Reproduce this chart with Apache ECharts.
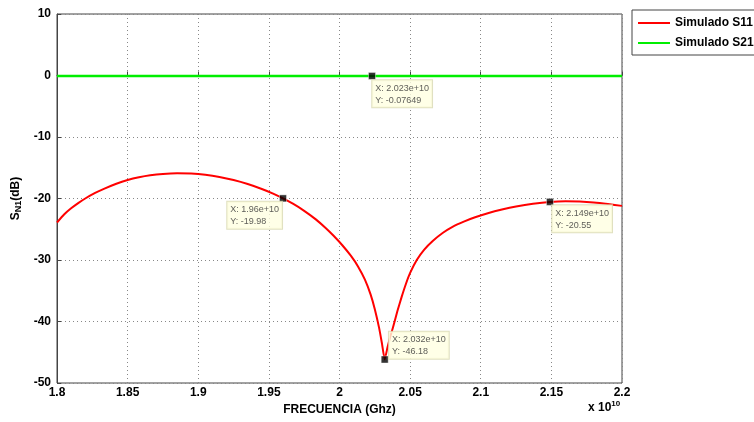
<!DOCTYPE html>
<html>
<head>
<meta charset="utf-8">
<script src="https://cdn.jsdelivr.net/npm/echarts@6/dist/echarts.min.js"></script>
<style>
html,body{margin:0;padding:0;background:#fff;}
#chart{width:754px;height:422px;}
</style>
</head>
<body>
<div id="chart"></div>
<script>
// frecuencia en unidades de 1e10 Hz
var freqS11 = [1.800, 1.805, 1.810, 1.815, 1.820, 1.827, 1.834, 1.842, 1.850, 1.858, 1.866, 1.875, 1.885, 1.895, 1.905, 1.915, 1.925, 1.935, 1.945, 1.953, 1.960, 1.967, 1.975, 1.983, 1.990, 1.996, 2.002, 2.008, 2.013, 2.018, 2.022, 2.025, 2.028, 2.030, 2.032, 2.034, 2.036, 2.0377, 2.041, 2.044, 2.047, 2.050, 2.0547, 2.060, 2.066, 2.073, 2.080, 2.088, 2.096, 2.105, 2.115, 2.125, 2.137, 2.149, 2.160, 2.170, 2.180, 2.190, 2.200];
var valS11 = [-23.9, -22.6, -21.6, -20.75, -20.0, -19.1, -18.35, -17.6, -17.0, -16.55, -16.22, -16.0, -15.9, -15.95, -16.15, -16.5, -17.0, -17.65, -18.45, -19.2, -19.98, -20.85, -22.0, -23.35, -24.75, -26.1, -27.6, -29.3, -31.0, -33.2, -35.6, -38.0, -41.0, -43.5, -46.18, -44.2, -42.4, -41.1, -38.3, -36.0, -33.9, -32.1, -30.0, -28.3, -26.9, -25.6, -24.6, -23.75, -23.05, -22.4, -21.8, -21.3, -20.85, -20.55, -20.45, -20.5, -20.65, -20.9, -21.2];
var freqS21 = [1.80, 1.90, 2.00, 2.023, 2.10, 2.20];
var valS21 = [-0.07, -0.072, -0.075, -0.07649, -0.078, -0.08];

var tipX = [2.023, 1.96, 2.032, 2.149];
var tipY = [-0.07649, -19.98, -46.18, -20.55];

var xTicks = ['1.8', '1.85', '1.9', '1.95', '2', '2.05', '2.1', '2.15', '2.2'];

var myChart = echarts.init(document.getElementById('chart'));

var s11 = freqS11.map(function (f, i) { return [f, valS11[i]]; });
var s21 = freqS21.map(function (f, i) { return [f, valS21[i]]; });

// desplazamiento de cada cuadro de dato respecto al marcador
var tipPos = [[4, 8], [-52, 7], [8, -24], [6, 7]];
var tips = tipX.map(function (x, i) {
    return {
        value: [x, tipY[i]],
        label: { position: tipPos[i] }
    };
});

var fontFam = 'Liberation Sans, Arial, sans-serif';

var option = {
    animation: false,
    backgroundColor: '#fff',
    grid: {
        left: 57, right: 132, top: 14, bottom: 39,
        show: true, borderColor: '#444', borderWidth: 1
    },
    legend: {
        left: 632, top: 10,
        orient: 'vertical',
        backgroundColor: '#fff',
        borderColor: '#444', borderWidth: 1,
        padding: [7, 4, 6, 6],
        itemGap: 8,
        icon: 'rect',
        itemWidth: 32, itemHeight: 2,
        textStyle: { fontFamily: fontFam, fontWeight: 'bold', fontSize: 12, color: '#000' },
        data: ['Simulado S11', 'Simulado S21']
    },
    xAxis: {
        type: 'value',
        min: 1.8, max: 2.2, interval: 0.05,
        name: 'FRECUENCIA (Ghz)',
        nameLocation: 'middle', nameGap: 21,
        nameTextStyle: { fontFamily: fontFam, fontWeight: 'bold', fontSize: 12, color: '#000' },
        axisLine: { show: true, lineStyle: { color: '#444' } },
        axisTick: { show: true, inside: true, length: 4, lineStyle: { color: '#444' } },
        axisLabel: {
            margin: 4,
            fontFamily: fontFam, fontWeight: 'bold', fontSize: 12, color: '#000',
            formatter: function (v) {
                var k = Math.round((v - 1.8) / 0.05);
                return xTicks[k] !== undefined ? xTicks[k] : '';
            }
        },
        splitLine: { show: true, lineStyle: { color: '#888', type: [1, 3], width: 1 } }
    },
    yAxis: {
        type: 'value',
        min: -50, max: 10, interval: 10,
        name: '{a|S}{s|N1}{a|(dB)}',
        nameLocation: 'middle', nameGap: 32, nameRotate: 90,
        nameTextStyle: {
            rich: {
                a: { fontFamily: fontFam, fontWeight: 'bold', fontSize: 12, color: '#000' },
                s: { fontFamily: fontFam, fontWeight: 'bold', fontSize: 9, color: '#000', verticalAlign: 'bottom', padding: [6, 0, 0, 0] }
            }
        },
        axisLine: { show: true, lineStyle: { color: '#444' } },
        axisTick: { show: true, inside: true, length: 4, lineStyle: { color: '#444' } },
        axisLabel: { margin: 6, fontFamily: fontFam, fontWeight: 'bold', fontSize: 12, color: '#000' },
        splitLine: { show: true, lineStyle: { color: '#888', type: [1, 3], width: 1 } }
    },
    graphic: [{
        type: 'text',
        left: 588, top: 400,
        style: {
            text: '{a|x 10}{s|10}',
            rich: {
                a: { fontFamily: fontFam, fontWeight: 'bold', fontSize: 12, fill: '#000' },
                s: { fontFamily: fontFam, fontWeight: 'bold', fontSize: 8, fill: '#000', verticalAlign: 'top', padding: [0, 0, 8, 0] }
            }
        }
    }],
    series: [
        {
            name: 'Simulado S11', type: 'line',
            data: s11, symbol: 'none', smooth: 0.15,
            lineStyle: { color: '#ff0000', width: 2 },
            itemStyle: { color: '#ff0000' }
        },
        {
            name: 'Simulado S21', type: 'line',
            data: s21, symbol: 'none',
            lineStyle: { color: '#00ee00', width: 2.5 },
            itemStyle: { color: '#00ee00' }
        },
        {
            name: 'tips', type: 'scatter',
            data: tips,
            symbol: 'rect', symbolSize: 7,
            itemStyle: { color: '#000', borderColor: '#fff', borderWidth: 0.5 },
            z: 5,
            label: {
                show: true,
                formatter: function (p) {
                    return 'X: ' + p.value[0] + 'e+10\nY: ' + p.value[1];
                },
                fontFamily: fontFam, fontSize: 9, color: '#333', lineHeight: 12,
                backgroundColor: '#ffffe1',
                borderColor: '#d8d8b0', borderWidth: 1,
                padding: [2, 3, 1, 3]
            }
        }
    ]
};

myChart.setOption(option);
</script>
</body>
</html>
